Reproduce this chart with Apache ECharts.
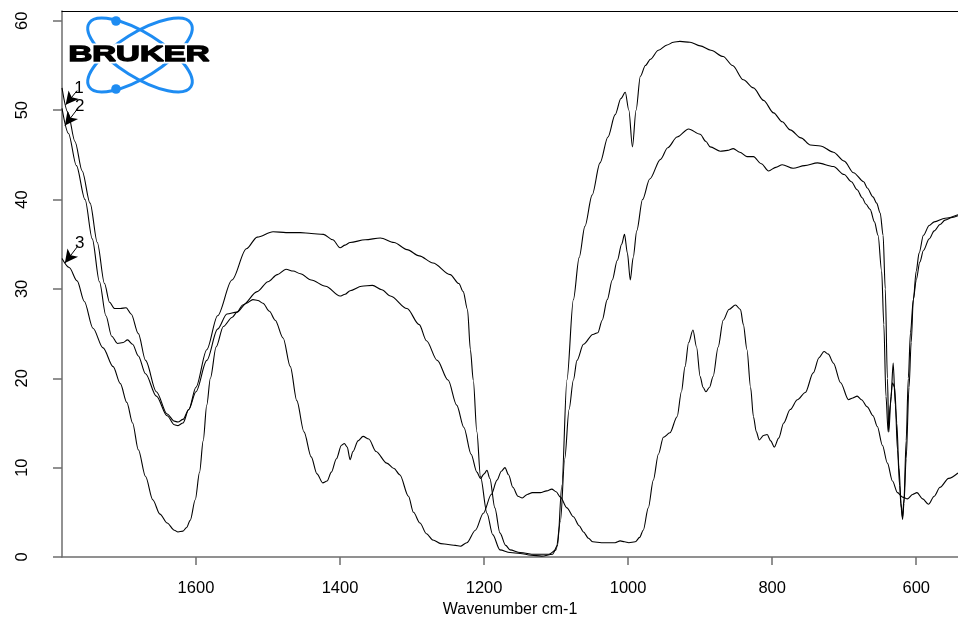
<!DOCTYPE html>
<html>
<head>
<meta charset="utf-8">
<script src="https://cdn.jsdelivr.net/npm/echarts@6/dist/echarts.min.js"></script>
<style>
  html, body { margin: 0; padding: 0; background: #fff; }
  #chart { width: 958px; height: 619px; }
</style>
</head>
<body>
<div id="chart"></div>
<script>
// [wavenumber, transmittance]
const spectrum1 = [
  [1786, 52.5], [1778, 49.8], [1768, 46.5], [1758, 43.2], [1747, 39.6], [1737, 35.2], [1727, 30.6],
  [1720, 28.5], [1713, 27.8], [1705, 27.8], [1697, 27.9], [1690, 27.2], [1680, 25], [1670, 22],
  [1655, 18.5], [1640, 16], [1630, 15.2], [1625, 15.1], [1618, 15.4], [1610, 16.5], [1600, 19],
  [1585, 23.2], [1570, 27], [1550, 31], [1530, 34.5], [1515, 35.8], [1493, 36.4], [1475, 36.3],
  [1455, 36.3], [1440, 36.2], [1423, 36.1], [1410, 35.5], [1400, 34.6], [1393, 34.9], [1386, 35.2],
  [1365, 35.5], [1344, 35.7], [1325, 35.2], [1307, 34.4], [1290, 33.7], [1271, 32.9], [1247, 31.6],
  [1235, 30.6], [1229, 29.7], [1223, 27.7], [1219, 23.2], [1215, 19.8], [1210, 14], [1205, 9],
  [1196, 4.9], [1188, 2.5], [1178, 0.8], [1164, 0.5], [1150, 0.4], [1135, 0.2], [1120, 0.1],
  [1105, 0.3], [1098, 1.3], [1092, 8], [1085, 19.8], [1076, 28.8], [1068, 33.5], [1060, 37],
  [1050, 40.5], [1039, 44.1], [1028, 47], [1018, 49.5], [1010, 51.3], [1004, 52], [999, 50],
  [994, 45.9], [989, 50], [983, 53.8], [976, 55], [969, 55.7], [958, 56.7], [946, 57.3],
  [937, 57.6], [928, 57.7], [914, 57.6], [900, 57.2], [885, 56.7], [868, 56], [855, 55],
  [840, 53.4], [826, 52.5], [812, 51.1], [798, 49.7], [786, 48.7], [775, 47.8], [760, 46.9],
  [747, 46.1], [733, 46], [715, 45.3], [700, 44.3], [687, 43], [673, 42], [668, 41.3],
  [660, 40.3], [655, 39.6], [650, 38.5], [646, 36], [643, 30], [640, 20], [638, 14],
  [635, 18], [632, 21.7], [629, 17], [626, 12], [623, 8], [621, 5.5], [619, 4.4], [617, 6.5],
  [614, 13], [611, 20], [608, 25.1], [604, 28.8], [600, 31], [595, 33], [590, 34.3],
  [582, 35.6], [575, 36.5], [567, 37.2], [560, 37.7], [550, 38], [542, 38.2]
]

const spectrum2 = [
  [1786, 50.2], [1777, 47.4], [1766, 43.8], [1754, 40], [1744, 35.6], [1734, 30.8], [1725, 27],
  [1717, 24.7], [1709, 23.9], [1701, 24], [1695, 24.3], [1688, 23.8], [1680, 22.5], [1670, 20.5], [1655, 18],
  [1640, 15.8], [1630, 14.8], [1625, 14.7], [1618, 15], [1610, 16.5], [1600, 18.5], [1585, 22],
  [1570, 25.5], [1557, 27.2], [1543, 27.4], [1535, 28.2], [1515, 29.7], [1500, 30.8], [1487, 31.6],
  [1475, 32.2], [1465, 32], [1455, 31.7], [1440, 31], [1420, 30.3], [1400, 29.2], [1393, 29.4],
  [1386, 29.8], [1370, 30.3], [1355, 30.4], [1342, 29.9], [1330, 29.2], [1307, 27.8], [1290, 26],
  [1280, 24.2], [1265, 22], [1250, 19.8], [1238, 17], [1228, 14.5], [1218, 11.5], [1210, 9.5],
  [1205, 8.8], [1200, 9.3], [1196, 9.7], [1192, 8.8], [1185, 5.5], [1178, 2.7], [1170, 1.3],
  [1164, 0.8], [1150, 0.5], [1130, 0.3], [1110, 0.3], [1100, 0.8], [1094, 4], [1088, 11],
  [1082, 16.5], [1076, 19.8], [1071, 22], [1062, 23.8], [1049, 24.9], [1042, 25.1], [1036, 26.5],
  [1029, 28.8], [1022, 31], [1015, 33.2], [1009, 35], [1005, 36.1], [1001, 34], [997, 31],
  [993, 33.5], [988, 36.5], [980, 40], [970, 42.3], [955, 44.5], [945, 45.8], [932, 47],
  [916, 47.9], [900, 47.3], [892, 46.5], [886, 45.9], [872, 45.4], [862, 45.5], [854, 45.7],
  [845, 45.3], [835, 44.8], [826, 44.8], [815, 44], [805, 43.2], [795, 43.6], [786, 43.9],
  [771, 43.5], [755, 43.8], [737, 44.1], [715, 43.7], [700, 42.8], [690, 42], [682, 41.1],
  [675, 40.2], [670, 39.5], [664, 38.9], [658, 37.5], [653, 36], [648, 32], [645, 26],
  [642, 18], [639, 14], [636, 17], [633, 19.5], [630, 19], [627, 15], [624, 10], [621, 6],
  [619, 4.2], [617, 6], [614, 11], [610, 19], [607, 24], [604, 28.8], [600, 32], [596, 34],
  [590, 36], [582, 37.1], [575, 37.5], [560, 37.9], [542, 38.3]
]

const spectrum3 = [
  [1786, 33.4], [1776, 32.4], [1765, 30.9], [1755, 28.6], [1743, 25.6], [1729, 23.4], [1715, 21.3],
  [1705, 19.4], [1696, 17.3], [1688, 15], [1680, 12], [1670, 9], [1660, 6.4], [1650, 4.8],
  [1640, 3.8], [1630, 3], [1625, 2.8], [1618, 2.9], [1613, 3.3], [1608, 4.1], [1601, 6.4],
  [1595, 9.5], [1590, 13], [1585, 17], [1580, 20], [1572, 23.5], [1562, 25.8], [1550, 26.8],
  [1543, 27.4], [1530, 28.4], [1521, 28.8], [1514, 28.7], [1507, 28.4], [1498, 27.5], [1490, 26.5],
  [1479, 24.5], [1469, 21.3], [1460, 17.5], [1450, 14], [1440, 11.2], [1432, 9.3], [1424, 8.3],
  [1418, 8.5], [1412, 9.5], [1405, 11], [1398, 12.5], [1394, 12.7], [1390, 12.3], [1386, 10.9],
  [1382, 11.8], [1375, 13], [1368, 13.5], [1360, 13.2], [1350, 11.8], [1335, 10.5], [1325, 9.9],
  [1317, 9.2], [1305, 6.8], [1298, 5], [1289, 3.8], [1280, 2.6], [1271, 1.9], [1260, 1.5],
  [1250, 1.4], [1240, 1.3], [1233, 1.2], [1224, 1.6], [1212, 3], [1201, 4.9], [1190, 7],
  [1182, 8.6], [1176, 9.6], [1171, 10], [1166, 9.2], [1160, 7.8], [1153, 6.8], [1147, 6.6],
  [1140, 7], [1133, 7.2], [1122, 7.2], [1113, 7.4], [1106, 7.6], [1100, 7.3], [1094, 6.7],
  [1085, 5.5], [1076, 4.5], [1068, 3.5], [1062, 2.8], [1055, 2.1], [1049, 1.7], [1037, 1.6],
  [1025, 1.6], [1018, 1.6], [1011, 1.8], [1005, 1.7], [999, 1.6], [990, 1.7], [984, 2.2],
  [979, 3], [972, 5.5], [965, 8.6], [958, 11.5], [951, 13.4], [942, 13.9], [932, 15.7],
  [926, 18.5], [921, 21.3], [916, 24], [910, 25.4], [905, 23.5], [900, 20.2], [896, 19],
  [892, 18.5], [887, 19], [882, 20.2], [875, 23.5], [868, 26.5], [860, 27.7], [851, 28.2],
  [844, 27.7], [840, 26], [835, 23.2], [830, 19], [826, 15.7], [822, 14], [818, 13.1],
  [812, 13.6], [807, 13.7], [802, 13], [797, 12.3], [791, 13.3], [784, 15], [775, 16.5],
  [765, 17.6], [754, 18.4], [743, 20.6], [735, 22.3], [728, 23], [722, 22.7], [715, 21.7],
  [705, 19.5], [694, 17.6], [688, 17.8], [682, 18], [676, 17.6], [668, 16.8], [660, 15.8],
  [654, 14.6], [647, 12.5], [640, 10.5], [633, 8.5], [626, 7.2], [619, 6.7], [612, 6.5],
  [605, 7], [599, 7.2], [591, 6.5], [583, 5.9], [575, 6.8], [567, 7.8], [555, 8.8], [542, 9.4]
]

const xTicks = [600, 800, 1000, 1200, 1400, 1600]
const yTicks = [0, 10, 20, 30, 40, 50, 60]
const xRange = [542, 1786]
const yRange = [0, 61.1]

// curve numbers with arrow: [label, arrow start, arrow tip]
const curveMarks = [
  ['1', [1765, 52.2], [1781, 50.6]],
  ['2', [1764, 50.2], [1782, 48.3]],
  ['3', [1764, 34.8], [1782, 32.9]]
]

const axisGray = '#6e6e6e'
const logoBlue = '#1e8cf2'

function lineSeries(data, marks) {
  const s = {
    type: 'line',
    data: data,
    showSymbol: false,
    smooth: 0.3,
    smoothMonotone: 'x',
    lineStyle: { color: '#000', width: 1.1 },
    itemStyle: { color: '#000' },
    silent: true
  }
  if (marks) {
    s.markLine = {
      silent: true,
      animation: false,
      symbol: ['none', 'arrow'],
      symbolSize: [10, 13],
      lineStyle: { color: '#000', width: 1, type: 'solid' },
      label: {
        show: true,
        position: 'start',
        distance: 3,
        color: '#000',
        fontSize: 17,
        fontFamily: 'Liberation Sans',
        formatter: p => p.name
      },
      data: marks.map(m => [
        { name: m[0], coord: m[1] },
        { coord: m[2] }
      ])
    }
  }
  return s
}

const chart = echarts.init(document.getElementById('chart'))
const deg = Math.PI / 180
const logoFont = 'bold 22px "Liberation Sans"'

chart.setOption({
  animation: false,
  backgroundColor: '#fff',
  grid: { left: 62, right: 0, top: 11, bottom: 62, outerBoundsMode: 'none' },
  xAxis: [
    {
      type: 'value',
      inverse: true,
      min: xRange[0],
      max: xRange[1],
      name: 'Wavenumber cm-1',
      nameLocation: 'middle',
      nameGap: 42,
      nameTextStyle: { color: '#000', fontSize: 16, fontFamily: 'Liberation Sans' },
      axisLine: { show: true, lineStyle: { color: axisGray, width: 1.5 } },
      axisTick: { show: true, length: 8, customValues: xTicks, lineStyle: { color: axisGray, width: 1.5 } },
      axisLabel: {
        customValues: xTicks,
        margin: 23,
        color: '#000',
        fontSize: 16.5,
        fontFamily: 'Liberation Sans',
        formatter: v => String(v)
      },
      splitLine: { show: false }
    },
    {
      type: 'value',
      position: 'top',
      inverse: true,
      min: xRange[0],
      max: xRange[1],
      axisLine: { show: true, onZero: false, lineStyle: { color: '#000', width: 1.2 } },
      axisTick: { show: false },
      axisLabel: { show: false },
      splitLine: { show: false }
    }
  ],
  yAxis: {
    type: 'value',
    min: yRange[0],
    max: yRange[1],
    axisLine: { show: true, lineStyle: { color: axisGray, width: 1.5 } },
    axisTick: { show: true, length: 9, customValues: yTicks, lineStyle: { color: axisGray, width: 1.5 } },
    axisLabel: {
      customValues: yTicks,
      rotate: 90,
      margin: 31,
      color: '#000',
      fontSize: 16.5,
      fontFamily: 'Liberation Sans',
      formatter: v => String(v)
    },
    splitLine: { show: false }
  },
  series: [
    lineSeries(spectrum1),
    lineSeries(spectrum2),
    lineSeries(spectrum3, curveMarks)
  ],
  graphic: [
    {
      type: 'ellipse', x: 140, y: 55, rotation: -32 * deg, z: 10,
      shape: { cx: 0, cy: 0, rx: 60, ry: 22 },
      style: { fill: 'none', stroke: logoBlue, lineWidth: 3 }
    },
    {
      type: 'ellipse', x: 140, y: 55, rotation: 32 * deg, z: 10,
      shape: { cx: 0, cy: 0, rx: 60, ry: 22 },
      style: { fill: 'none', stroke: logoBlue, lineWidth: 3 }
    },
    { type: 'circle', z: 11, shape: { cx: 116, cy: 21, r: 4.8 }, style: { fill: logoBlue } },
    { type: 'circle', z: 11, shape: { cx: 116, cy: 89, r: 4.8 }, style: { fill: logoBlue } },
    {
      type: 'text', x: 139, y: 55, scaleX: 1.5, z: 12,
      style: {
        text: 'BRUKER', font: logoFont, fill: '#fff', stroke: '#fff', lineWidth: 5,
        align: 'center', verticalAlign: 'middle'
      }
    },
    {
      type: 'text', x: 139, y: 55, scaleX: 1.5, z: 13,
      style: {
        text: 'BRUKER', font: logoFont, fill: '#000', stroke: '#000', lineWidth: 1.3,
        align: 'center', verticalAlign: 'middle'
      }
    }
  ]
})
</script>
</body>
</html>
